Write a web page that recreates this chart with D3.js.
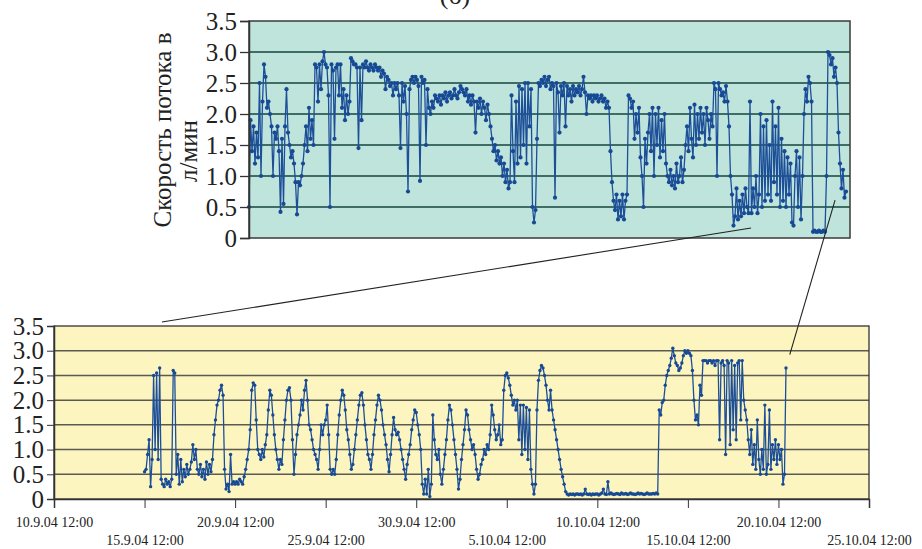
<!DOCTYPE html>
<html lang="ru">
<head>
<meta charset="UTF-8">
<title>Скорость потока</title>
<script src="https://d3js.org/d3.v7.min.js"></script>
<style>
  body { margin: 0; background: #fff; }
  svg { display: block; font-family: "Liberation Serif", "DejaVu Serif", serif; }
  .axis text { fill: #222; }
  .axis path, .axis line { stroke: #333; }
  .flow { fill: none; stroke: #1d4f98; stroke-width: 1.3; stroke-linejoin: round; }
  .dot { fill: #174a94; }
</style>
</head>
<body>
<script>
  // upper panel: long record, one value per sample (no time labels in the figure)
  var topFlow = [
    0.5, 1.9, 1.4, 1.8, 1.2, 1.7, 1.3, 2.5, 1.0, 2.2,
    2.8, 2.6, 2.1, 2.2, 2.0, 1.8, 1.0, 1.7, 1.6, 1.8,
    1.4, 0.42, 1.6, 0.55, 1.8, 2.4, 1.7, 1.5, 1.3, 1.4,
    1.2, 0.9, 0.38, 0.9, 0.85, 1.0, 1.2, 1.5, 1.8, 1.4,
    2.1, 1.6, 1.9, 1.5, 2.8, 2.75, 2.2, 2.8, 2.4, 2.85,
    3.0, 2.8, 2.75, 2.3, 0.5, 2.8, 2.7, 1.6, 2.75, 2.8,
    2.3, 2.8, 2.1, 2.4, 1.9, 2.3, 2.0, 2.2, 2.9, 2.85,
    2.8, 2.8, 2.75, 1.45, 2.75, 1.9, 2.8, 2.75, 2.85, 2.75,
    2.7, 2.8, 2.75, 2.7, 2.8, 2.75, 2.7, 2.75, 2.6, 2.7,
    2.65, 2.4, 2.6, 2.55, 2.45, 2.5, 2.3, 2.5, 2.4, 2.5,
    2.3, 1.45, 2.5, 2.2, 2.45, 2.0, 0.75, 2.4, 2.55, 2.6,
    2.5, 2.6, 2.55, 2.45, 0.92, 2.6, 2.5, 2.55, 1.5, 2.4,
    2.1, 2.0, 2.2, 2.1, 2.3, 2.25, 2.2, 2.3, 2.15, 2.3,
    2.25, 2.35, 2.2, 2.3, 2.35, 2.25, 2.3, 2.4, 2.3, 2.25,
    2.35, 2.45, 2.4, 2.35, 2.3, 2.4, 2.2, 2.3, 2.15, 2.3,
    2.2, 1.7, 2.2, 2.1, 2.25, 2.0, 2.2, 2.1, 1.9, 2.15,
    2.0, 1.8, 1.6, 1.4, 1.5, 1.25, 1.4, 1.2, 1.3, 1.0,
    1.2, 0.9, 1.1, 0.8, 0.9, 2.3, 1.4, 0.9, 2.2, 1.2,
    2.45, 1.3, 2.4, 1.5, 2.5, 1.2, 2.5, 1.8, 2.4, 0.5,
    0.25, 0.45, 1.6, 2.5, 2.45, 2.55, 2.5, 2.6, 2.45, 2.55,
    2.6, 2.4, 2.5, 2.45, 0.65, 2.5, 2.35, 1.7, 2.45, 2.3,
    2.5, 1.8, 2.45, 2.3, 2.4, 2.2, 2.45, 2.3, 2.4, 2.35,
    2.45, 2.3, 2.4, 2.6, 2.35, 2.0, 2.3, 2.25, 2.3, 2.2,
    2.3, 2.25, 2.3, 2.2, 2.25, 2.3, 2.2, 2.25, 2.1, 2.2,
    2.1, 1.4, 0.9, 0.6, 0.45, 0.7, 0.3, 0.6, 0.35, 0.7,
    0.3, 0.6, 0.7, 2.3, 2.25, 2.1, 2.2, 1.6, 2.0, 1.7,
    2.1, 1.3, 1.0, 0.5, 1.6, 1.2, 1.7, 2.0, 1.4, 2.1,
    1.0, 2.0, 1.5, 2.1, 1.3, 1.9, 1.4, 2.0, 1.2, 1.0,
    0.9, 1.1, 0.85, 1.0, 0.8, 1.2, 0.9, 1.0, 1.3, 0.9,
    1.1, 1.5, 1.8, 1.4, 2.1, 1.6, 1.3, 2.15, 1.5, 2.0,
    1.6, 2.1, 1.7, 2.0, 1.5, 2.1, 1.9, 1.6, 2.0, 1.8,
    2.5, 2.4, 1.0, 2.5, 2.4, 2.3, 2.35, 2.2, 2.45, 2.2,
    1.8, 1.0, 0.7, 0.2, 0.35, 0.8, 0.3, 0.6, 0.35, 0.7,
    0.4, 0.8, 0.5, 0.4, 2.2, 0.4, 0.8, 0.5, 1.0, 0.4,
    0.7, 2.0, 0.5, 1.8, 0.6, 1.9, 0.7, 1.5, 0.6, 2.2,
    0.9, 1.8, 0.7, 2.1, 0.5, 1.6, 0.6, 1.4, 0.5, 1.3,
    0.7, 1.2, 0.25, 0.2, 1.0, 1.4, 0.5, 1.3, 0.3, 1.0,
    2.0, 2.4, 2.2, 2.6, 2.5, 2.2, 0.1, 0.12, 0.1, 0.1,
    0.12, 0.1, 0.1, 0.12, 0.1, 1.0, 3.0, 2.95, 2.8, 2.9,
    2.6, 2.75, 2.5, 1.7, 1.2, 0.8, 1.1, 0.65, 0.75
  ];

  // lower panel: 15.9.04 12:00 onwards, one value every 2 hours (12 per row = 1 day)
  var bottomStart = "15.9.04 12:00";
  var bottomStepHours = 2;
  var bottomFlow = [
    0.55, 0.6, 0.9, 1.2, 0.25, 0.8, 2.5, 1.0, 2.55, 0.8, 2.65, 0.4,
    0.3, 0.25, 0.4, 0.3, 0.35, 0.25, 0.4, 2.6, 2.55, 0.5, 0.9, 0.3,
    0.8, 0.35, 0.6, 0.45, 0.7, 0.5, 0.6, 0.75, 1.1, 0.8, 1.0, 0.6,
    0.5, 0.7, 0.45, 0.6, 0.4, 0.75, 0.5, 0.7, 0.55, 0.8, 1.3, 1.6,
    1.9, 2.0, 2.2, 2.3, 2.1, 0.6, 0.2, 0.3, 0.15, 0.9, 0.3, 0.35,
    0.3, 0.35, 0.3, 0.4, 0.35, 0.3, 0.45, 0.6, 0.8, 1.0, 1.4, 2.2,
    2.35, 2.3, 1.6, 1.0, 0.9, 0.8, 1.0, 0.85, 1.1, 1.3, 1.8, 2.2,
    2.1, 1.7, 1.3, 1.0, 0.8, 0.6, 0.8, 0.7, 1.2, 1.6, 2.0, 2.2,
    2.25, 2.0, 1.2, 0.5, 0.9, 1.3, 1.5, 1.7, 2.0, 1.8, 2.2, 2.4,
    2.0, 1.5, 1.4, 1.2, 1.0, 0.9, 0.8, 0.6, 1.0, 1.5, 1.3, 1.5,
    1.6, 1.9, 1.3, 0.6, 0.5, 0.6, 0.5, 0.8, 1.3, 1.7, 2.0, 2.2,
    2.1, 1.8, 1.4, 1.2, 0.9, 0.6, 0.7, 1.0, 1.3, 1.6, 1.9, 2.1,
    2.15, 1.9, 1.5, 1.2, 0.9, 0.8, 0.6, 0.9, 1.3, 1.6, 1.9, 2.1,
    2.0, 1.8, 1.5, 1.3, 1.1, 0.8, 0.55, 0.9, 1.3, 1.65, 1.4, 1.3,
    1.35, 1.2, 1.0, 0.8, 0.6, 0.4, 0.7, 0.9, 1.1, 1.4, 1.6, 1.8,
    1.75, 1.5, 1.3, 1.0, 0.3, 0.1, 0.4, 0.1, 0.6, 0.05, 0.3, 1.7,
    1.2, 0.9, 0.8, 1.0, 0.5, 0.3, 0.6, 0.9, 1.2, 1.6, 1.9, 1.8,
    1.5, 1.2, 0.9, 0.6, 0.2, 0.4, 0.8, 1.1, 1.4, 1.8, 1.7, 1.4,
    1.2, 1.0, 1.1, 0.9, 0.6, 0.4, 0.5, 0.7, 0.8, 1.0, 0.9, 1.1,
    1.0, 1.3, 1.9, 1.7, 1.4, 1.2, 1.3, 1.5, 1.1, 1.2, 2.2, 2.5,
    2.55, 2.45, 2.3, 2.1, 1.9, 2.0, 1.8, 2.0, 1.2, 1.9, 0.9, 1.9,
    1.0, 1.85, 0.8, 1.8, 0.6, 0.3, 0.1, 0.3, 1.8, 2.4, 2.6, 2.7,
    2.65, 2.5, 2.3, 2.0, 1.8, 2.2, 1.8, 1.6, 1.4, 1.2, 1.0, 0.8,
    0.6, 0.45, 0.3, 0.15, 0.1, 0.08, 0.1, 0.09, 0.1, 0.08, 0.1, 0.1,
    0.09, 0.1, 0.08, 0.1, 0.2, 0.1, 0.09, 0.1, 0.08, 0.1, 0.09, 0.1,
    0.1, 0.08, 0.1, 0.12, 0.2, 0.1, 0.09, 0.35, 0.1, 0.12, 0.1, 0.09,
    0.1, 0.11, 0.1, 0.09, 0.12, 0.1, 0.1, 0.11, 0.09, 0.1, 0.12, 0.1,
    0.1, 0.09, 0.1, 0.12, 0.1, 0.11, 0.1, 0.09, 0.1, 0.12, 0.1, 0.1,
    0.1, 0.11, 0.1, 0.12, 0.1, 1.8, 1.7, 1.95, 2.0, 2.3, 2.5, 2.6,
    2.7, 2.85, 3.05, 2.9, 2.75, 2.7, 2.6, 2.65, 2.75, 2.9, 3.0, 2.95,
    3.0, 2.95, 2.9, 2.6, 2.0, 1.6, 1.7, 1.5, 2.3, 2.1, 2.8, 2.8,
    2.8, 2.75, 2.8, 2.8, 2.75, 2.8, 2.7, 2.8, 2.8, 1.2, 2.75, 2.8,
    2.7, 0.9, 2.8, 2.75, 1.1, 2.8, 1.4, 2.7, 1.2, 2.75, 2.8, 1.6,
    2.8, 2.0, 1.8, 1.6, 1.2, 0.9, 1.4, 0.7, 1.1, 0.6, 1.6, 0.8,
    0.5, 1.0, 0.6, 1.9, 0.5, 0.7, 1.8, 0.6, 1.1, 0.8, 1.2, 0.7,
    1.1, 0.8, 1.0, 0.3, 0.5, 2.65
  ];

  var yTicks = [0, 0.5, 1, 1.5, 2, 2.5, 3, 3.5];
  var xTickLabels = [
    "10.9.04 12:00", "15.9.04 12:00", "20.9.04 12:00", "25.9.04 12:00", "30.9.04 12:00",
    "5.10.04 12:00", "10.10.04 12:00", "15.10.04 12:00", "20.10.04 12:00", "25.10.04 12:00"
  ];
  var yTitle = ["Скорость потока в", "л/мин"];
  var panelTitle = "(б)";

  // where the lower panel sits inside the upper one
  var zoomLinks = [
    { topIndex: 334.7, topValue: 0.16, bottomTime: "16.9.04 11:00", bottomValue: 3.58 },
    { topIndex: 390.7, topValue: 0.61, bottomTime: "21.10.04 03:00", bottomValue: 2.92 }
  ];

  var parseTime = d3.timeParse("%d.%m.%y %H:%M");
  var fmtY = function(d) { return d === 0 ? "0" : d3.format(".1f")(d); };

  var svg = d3.select("body").append("svg")
      .attr("width", 922)
      .attr("height", 549);

  // ---------- upper panel ----------
  var topBox = { left: 249, right: 850, top: 21, bottom: 238 };

  var xTop = d3.scaleLinear()
      .domain([0, 400])
      .range([topBox.left, topBox.right - 1]);
  var yTop = d3.scaleLinear()
      .domain([0, 3.5])
      .range([topBox.bottom, topBox.top]);

  svg.append("rect")
      .attr("x", topBox.left).attr("y", topBox.top)
      .attr("width", topBox.right - topBox.left)
      .attr("height", topBox.bottom - topBox.top)
      .attr("fill", "#bfe4dc");

  svg.append("g")
      .selectAll("line")
      .data(yTicks.slice(1, -1))
      .join("line")
      .attr("x1", topBox.left).attr("x2", topBox.right)
      .attr("y1", d => yTop(d)).attr("y2", d => yTop(d))
      .attr("stroke", "#3f6d66")
      .attr("stroke-width", 1.8);

  svg.append("rect")
      .attr("x", topBox.left).attr("y", topBox.top)
      .attr("width", topBox.right - topBox.left)
      .attr("height", topBox.bottom - topBox.top)
      .attr("fill", "none")
      .attr("stroke", "#3a3a3a")
      .attr("stroke-width", 1.5);

  var lineTop = d3.line()
      .x((d, i) => xTop(i))
      .y(d => yTop(d));

  svg.append("path")
      .datum(topFlow)
      .attr("class", "flow")
      .attr("stroke", "#1f56a3")
      .attr("stroke-width", 2)
      .attr("d", lineTop);

  svg.append("g")
      .selectAll("circle")
      .data(topFlow)
      .join("circle")
      .attr("class", "dot")
      .attr("cx", (d, i) => xTop(i))
      .attr("cy", d => yTop(d))
      .attr("r", 2.1);

  svg.append("g")
      .attr("class", "axis")
      .attr("transform", `translate(${topBox.left},0)`)
      .call(d3.axisLeft(yTop).tickValues(yTicks).tickFormat(fmtY).tickSize(9).tickPadding(3))
      .call(g => g.selectAll("text").attr("font-size", 25).attr("font-family", "Liberation Serif"))
      .call(g => g.selectAll("line").attr("stroke-width", 1.3))
      .call(g => g.select(".domain").attr("stroke-width", 1.5));

  // rotated y title, two lines
  svg.append("text")
      .attr("transform", "translate(171,130) rotate(-90)")
      .attr("text-anchor", "middle")
      .attr("font-size", 25)
      .attr("fill", "#222")
      .text(yTitle[0]);
  svg.append("text")
      .attr("transform", "translate(197,151) rotate(-90)")
      .attr("text-anchor", "middle")
      .attr("font-size", 25)
      .attr("fill", "#222")
      .text(yTitle[1]);

  svg.append("text")
      .attr("x", 455).attr("y", 4)
      .attr("text-anchor", "middle")
      .attr("font-size", 26)
      .attr("fill", "#222")
      .text(panelTitle);

  // ---------- lower panel ----------
  var botBox = { left: 54, right: 869, top: 326, bottom: 499 };
  var xDates = xTickLabels.map(parseTime);

  var xBot = d3.scaleTime()
      .domain([xDates[0], xDates[xDates.length - 1]])
      .range([botBox.left, botBox.right]);
  var yBot = d3.scaleLinear()
      .domain([0, 3.5])
      .range([botBox.bottom, botBox.top]);

  svg.append("rect")
      .attr("x", botBox.left).attr("y", botBox.top)
      .attr("width", botBox.right - botBox.left)
      .attr("height", botBox.bottom - botBox.top)
      .attr("fill", "#fdf5bf");

  svg.append("g")
      .selectAll("line")
      .data(yTicks.slice(1, -1))
      .join("line")
      .attr("x1", botBox.left).attr("x2", botBox.right)
      .attr("y1", d => yBot(d)).attr("y2", d => yBot(d))
      .attr("stroke", "#5a5a50")
      .attr("stroke-width", 1.5);

  svg.append("rect")
      .attr("x", botBox.left).attr("y", botBox.top)
      .attr("width", botBox.right - botBox.left)
      .attr("height", botBox.bottom - botBox.top)
      .attr("fill", "none")
      .attr("stroke", "#333")
      .attr("stroke-width", 1.3);

  var t0 = parseTime(bottomStart);
  var botPoints = bottomFlow.map((v, i) => ({
    t: d3.timeHour.offset(t0, i * bottomStepHours),
    v: v
  }));

  var lineBot = d3.line()
      .x(d => xBot(d.t))
      .y(d => yBot(d.v));

  svg.append("path")
      .datum(botPoints)
      .attr("class", "flow")
      .attr("stroke", "#1c4a90")
      .attr("stroke-width", 1.8)
      .attr("d", lineBot);

  svg.append("g")
      .selectAll("circle")
      .data(botPoints)
      .join("circle")
      .attr("class", "dot")
      .attr("cx", d => xBot(d.t))
      .attr("cy", d => yBot(d.v))
      .attr("r", 1.7);

  svg.append("g")
      .attr("class", "axis")
      .attr("transform", `translate(${botBox.left},0)`)
      .call(d3.axisLeft(yBot).tickValues(yTicks).tickFormat(fmtY).tickSize(7).tickPadding(3))
      .call(g => g.selectAll("text").attr("font-size", 25).attr("font-family", "Liberation Serif"))
      .call(g => g.select(".domain").attr("stroke-width", 1.5));

  svg.append("g")
      .attr("class", "axis")
      .attr("transform", `translate(0,${botBox.bottom})`)
      .call(d3.axisBottom(xBot).tickValues(xDates).tickFormat((d, i) => xTickLabels[i]).tickSize(9))
      .call(g => g.select(".domain").attr("stroke-width", 1.5))
      .call(g => g.selectAll("text")
          .attr("font-size", 14)
          .attr("font-family", "Liberation Serif")
          .attr("dy", null)
          .attr("y", (d, i) => i % 2 === 0 ? 28 : 46));

  // connector lines between the panels
  svg.append("g")
      .selectAll("line")
      .data(zoomLinks)
      .join("line")
      .attr("x1", d => xTop(d.topIndex))
      .attr("y1", d => yTop(d.topValue))
      .attr("x2", d => xBot(parseTime(d.bottomTime)))
      .attr("y2", d => yBot(d.bottomValue))
      .attr("stroke", "#222")
      .attr("stroke-width", 1.1);
</script>
</body>
</html>
